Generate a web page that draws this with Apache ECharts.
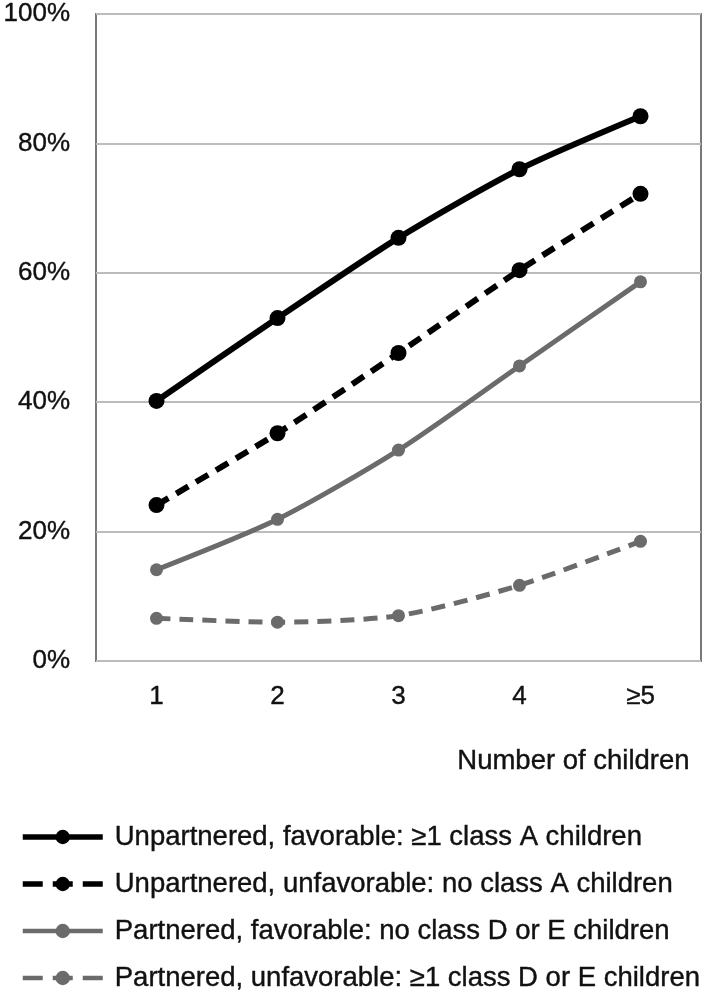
<!DOCTYPE html>
<html>
<head>
<meta charset="utf-8">
<script src="https://cdn.jsdelivr.net/npm/echarts@6/dist/echarts.min.js"></script>
<style>html,body{margin:0;padding:0;background:#fff}#c{width:704px;height:992px}</style>
</head>
<body>
<div id="c"></div>
<script>
var categories = ['1', '2', '3', '4', '\u22655'];
var seriesNames = [
  'Unpartnered, favorable: \u22651 class A children',
  'Unpartnered, unfavorable: no class A children',
  'Partnered, favorable: no class D or E children',
  'Partnered, unfavorable: \u22651 class D or E children'
];
var unpartneredFavorable = [40.2, 53.0, 65.4, 76.0, 84.2];
var unpartneredUnfavorable = [24.1, 35.2, 47.6, 60.4, 72.2];
var partneredFavorable = [14.1, 21.9, 32.6, 45.6, 58.6];
var partneredUnfavorable = [6.6, 6.0, 7.0, 11.7, 18.5];
var yTicks = [0, 20, 40, 60, 80, 100];

var FONT = '"Liberation Sans", Arial, sans-serif';
var TXT = '#111';
var styles = [
  { color: '#000000', width: 6, dashed: false, size: 16 },
  { color: '#000000', width: 6, dashed: true, size: 16 },
  { color: '#6b6b6b', width: 5, dashed: false, size: 13 },
  { color: '#6b6b6b', width: 5, dashed: true, size: 13 }
];
var dataSets = [unpartneredFavorable, unpartneredUnfavorable, partneredFavorable, partneredUnfavorable];
var series = dataSets.map(function (d, i) {
  var s = styles[i];
  return {
    name: seriesNames[i], type: 'line', data: d, smooth: 0.25,
    symbol: 'circle', symbolSize: s.size,
    itemStyle: { color: s.color },
    lineStyle: { color: s.color, width: s.width, type: s.dashed ? [14, 9] : 'solid' }
  };
});
var legendData = seriesNames.map(function (n, i) {
  var s = styles[i];
  return { name: n, lineStyle: { width: s.width - 0.5, type: s.dashed ? [20, 10] : 'solid', color: s.color } };
});
var chart = echarts.init(document.getElementById('c'));
chart.setOption({
  animation: false,
  backgroundColor: '#fff',
  title: {
    text: 'Number of children', right: 9, top: 742,
    textStyle: { fontFamily: FONT, fontSize: 27.5, fontWeight: 'normal', color: TXT, textBorderColor: TXT, textBorderWidth: 0.4 }
  },
  grid: { left: 96, right: 3, top: 14, bottom: 331, show: true, borderColor: '#787878', borderWidth: 2 },
  xAxis: {
    type: 'category', data: categories, boundaryGap: true,
    axisLine: { show: false }, axisTick: { show: false },
    axisLabel: { fontFamily: FONT, fontSize: 26, color: TXT, margin: 23, textBorderColor: TXT, textBorderWidth: 0.4 }
  },
  yAxis: {
    type: 'value', min: yTicks[0], max: yTicks[yTicks.length - 1], interval: 20,
    axisLine: { show: false }, axisTick: { show: false },
    axisLabel: { fontFamily: FONT, fontSize: 26, color: TXT, margin: 26, formatter: '{value}%', textBorderColor: TXT, textBorderWidth: 0.4 },
    splitLine: { lineStyle: { color: '#bcbcbc', width: 2 } }
  },
  legend: {
    orient: 'vertical', left: 15, top: 817, height: 180, itemWidth: 80, itemHeight: 18, itemGap: 17,
    textStyle: { fontFamily: FONT, fontSize: 27.5, color: TXT, lineHeight: 30, padding: [0, 0, 0, 7], textBorderColor: TXT, textBorderWidth: 0.4 },
    data: legendData
  },
  series: series
});
</script>
</body>
</html>
